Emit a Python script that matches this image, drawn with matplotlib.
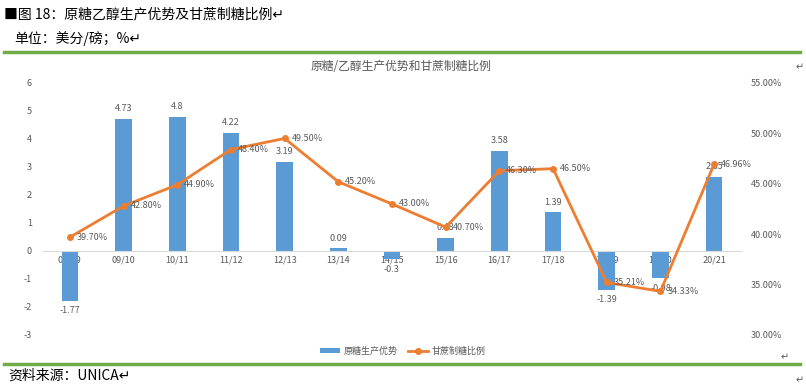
import matplotlib
matplotlib.use("Agg")
import matplotlib.pyplot as plt
from matplotlib.lines import Line2D
from matplotlib.patches import Patch

plt.rcParams['font.family'] = ['Noto Sans CJK SC', 'DejaVu Sans']

seasons = ["08/09", "09/10", "10/11", "11/12", "12/13", "13/14", "14/15",
           "15/16", "16/17", "17/18", "18/19", "19/20", "20/21"]
advantage = [-1.77, 4.73, 4.8, 4.22, 3.19, 0.09, -0.3, 0.48, 3.58, 1.39, -1.39, -0.98, 2.65]
adv_labels = ["-1.77", "4.73", "4.8", "4.22", "3.19", "0.09", "-0.3", "0.48", "3.58",
              "1.39", "-1.39", "-0.98", "2.65"]
sugar_mix = [39.70, 42.80, 44.90, 48.40, 49.50, 45.20, 43.00, 40.70, 46.30, 46.50,
             35.21, 34.33, 46.96]
left_ticks = [-3, -2, -1, 0, 1, 2, 3, 4, 5, 6]
right_ticks = [30, 35, 40, 45, 50, 55]

BLUE = "#5B9BD5"
ORANGE = "#ED7D31"
GRAY = "#595959"
GREEN = "#70AD47"

fig = plt.figure(figsize=(8.06, 3.85), dpi=100)
W, H = 806, 385

def fx(px):
    return px / W

def fy(py):
    return 1 - py / H

# document text
fig.text(fx(4), fy(14), "■图 18：原糖乙醇生产优势及甘蔗制糖比例↵", fontsize=10,
         va="center", ha="left", color="black")
fig.text(fx(14), fy(39), "单位：美分/磅；%↵", fontsize=10, va="center", ha="left", color="black")
fig.text(fx(8), fy(376), "资料来源：UNICA↵", fontsize=10, va="center", ha="left", color="black")
fig.add_artist(Line2D([fx(4), fx(800)], [fy(52), fy(52)], color=GREEN, lw=2.5))
fig.add_artist(Line2D([fx(4), fx(800)], [fy(364), fy(364)], color=GREEN, lw=2.5))
fig.text(fx(796), fy(67), "↵", fontsize=7, color=GRAY, va="center", ha="left")
fig.text(fx(781), fy(357), "↵", fontsize=7, color=GRAY, va="center", ha="left")
fig.text(fx(796), fy(380), "↵", fontsize=7, color=GRAY, va="center", ha="left")

# chart title
fig.text(fx(401), fy(67), "原糖/乙醇生产优势和甘蔗制糖比例", fontsize=8.5, color=GRAY,
         ha="center", va="center")

ax = fig.add_axes([fx(43), fy(335), fx(741) - fx(43), fy(83) - fy(335)])
x = list(range(len(seasons)))
ax.bar(x, advantage, width=0.31, color=BLUE, zorder=2)
ax.set_xlim(-0.5, len(seasons) - 0.5)
ax.set_ylim(-3, 6)
ax.set_yticks(left_ticks)
ax.set_yticklabels([str(t) for t in left_ticks])
ax.set_xticks(x)
ax.set_xticklabels(seasons)
for s in ["top", "right", "left"]:
    ax.spines[s].set_visible(False)
ax.spines["bottom"].set_position(("data", 0))
ax.spines["bottom"].set_color("#D9D9D9")
ax.tick_params(axis="x", length=0, pad=3, labelsize=6.5, colors=GRAY)
ax.tick_params(axis="y", length=0, pad=8, labelsize=6.5, colors=GRAY)
for xi, v, lab in zip(x, advantage, adv_labels):
    if v >= 0:
        ax.annotate(lab, (xi, v), xytext=(0, 4), textcoords="offset points",
                    ha="center", va="bottom", fontsize=6.5, color=GRAY, zorder=5)
    else:
        ax.annotate(lab, (xi, v), xytext=(0, -4), textcoords="offset points",
                    ha="center", va="top", fontsize=6.5, color=GRAY, zorder=5)

ax2 = ax.twinx()
ax2.plot(x, sugar_mix, color=ORANGE, lw=2, marker="o", markersize=4, zorder=3)
ax2.set_ylim(30, 55)
ax2.set_yticks(right_ticks)
ax2.set_yticklabels([f"{t:.2f}%" for t in right_ticks])
for s in ["top", "right", "left", "bottom"]:
    ax2.spines[s].set_visible(False)
ax2.tick_params(axis="y", length=0, pad=7, labelsize=6.5, colors=GRAY)
for xi, v in zip(x, sugar_mix):
    ax2.annotate(f"{v:.2f}%", (xi, v), xytext=(5, 0), textcoords="offset points",
                 ha="left", va="center", fontsize=6.5, color=GRAY, zorder=5)

handles = [Patch(facecolor=BLUE, edgecolor="none"),
           Line2D([0], [0], color=ORANGE, lw=2, marker="o", markersize=4)]
fig.legend(handles, ["原糖生产优势", "甘蔗制糖比例"], loc="center",
           bbox_to_anchor=(fx(403), fy(351)), ncol=2, frameon=False,
           fontsize=6.5, labelcolor=GRAY, handlelength=2.2, handleheight=0.5,
           columnspacing=1.2, handletextpad=0.4)

fig.savefig("out.png", dpi=100)
